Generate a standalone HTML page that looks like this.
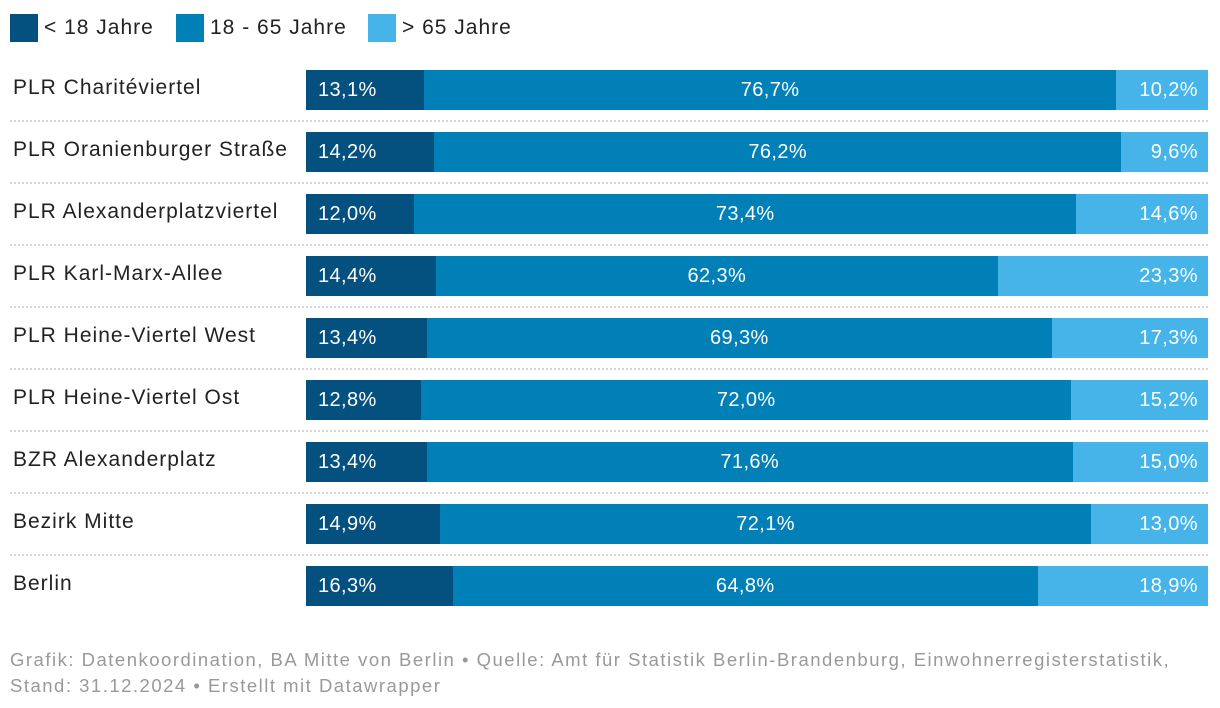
<!DOCTYPE html>
<html><head><meta charset="utf-8"><style>
body{margin:0;width:1220px;height:708px;background:#fff;font-family:"Liberation Sans",sans-serif;position:relative;overflow:hidden}
.leg{position:absolute;top:14px;height:28px;display:flex;align-items:center;font-size:21px;color:#222;letter-spacing:1px}
.sw{width:28px;height:28px;margin-right:6px}
.lab{position:absolute;left:13px;font-size:21px;color:#222;letter-spacing:1px}
.seg{position:absolute;height:40px;color:#fff;font-size:20px;line-height:40px;box-sizing:border-box;letter-spacing:0.4px}
.sep{position:absolute;left:10px;width:1198px;border-top:2px dotted #d6d6d6}
.foot{position:absolute;left:10px;top:647px;font-size:18.5px;color:#999;line-height:26px;letter-spacing:1.5px;white-space:nowrap}
</style></head><body>
<div class="leg" style="left:10px"><div class="sw" style="background:#04507f"></div>&lt; 18 Jahre</div>
<div class="leg" style="left:176px"><div class="sw" style="background:#0080b6"></div>18 - 65 Jahre</div>
<div class="leg" style="left:368px"><div class="sw" style="background:#46b4e9"></div>&gt; 65 Jahre</div>
<div id="chart"></div>
<div class="foot">Grafik: Datenkoordination, BA Mitte von Berlin • Quelle: Amt für Statistik Berlin-Brandenburg, Einwohnerregisterstatistik,<br>Stand: 31.12.2024 • Erstellt mit Datawrapper</div>
<script>
const categories=["PLR Charitéviertel","PLR Oranienburger Straße","PLR Alexanderplatzviertel","PLR Karl-Marx-Allee","PLR Heine-Viertel West","PLR Heine-Viertel Ost","BZR Alexanderplatz","Bezirk Mitte","Berlin"];
const under18=[13.1,14.2,12.0,14.4,13.4,12.8,13.4,14.9,16.3];
const mid=[76.7,76.2,73.4,62.3,69.3,72.0,71.6,72.1,64.8];
const over65=[10.2,9.6,14.6,23.3,17.3,15.2,15.0,13.0,18.9];
const X0=306,W=902,Y0=70,STEP=62;
const c=document.getElementById('chart');
const fmt=v=>v.toFixed(1).replace('.',',')+'%';
categories.forEach((cat,i)=>{
  const y=Y0+i*STEP;
  const l=document.createElement('div');l.className='lab';l.style.top=(y+6)+'px';l.textContent=cat;
  
  
  c.appendChild(l);
  const tot=under18[i]+mid[i]+over65[i];
  const vals=[under18[i],mid[i],over65[i]],cols=['#04507f','#0080b6','#46b4e9'],al=['left','center','right'];
  let x=X0;
  vals.forEach((v,k)=>{
    const w=v/tot*W;
    const s=document.createElement('div');s.className='seg';
    s.style.left=x+'px';s.style.top=y+'px';s.style.width=w+'px';s.style.background=cols[k];
    s.style.textAlign=al[k];s.style.padding=k==0?'0 0 0 12px':k==2?'0 10px 0 0':'0';
    s.textContent=fmt(v);
    
    
    c.appendChild(s);x+=w;
  });
  if(i<categories.length-1){const d=document.createElement('div');d.className='sep';d.style.top=(y+50)+'px';
  
  
  c.appendChild(d);}
});
</script>
</body></html>
